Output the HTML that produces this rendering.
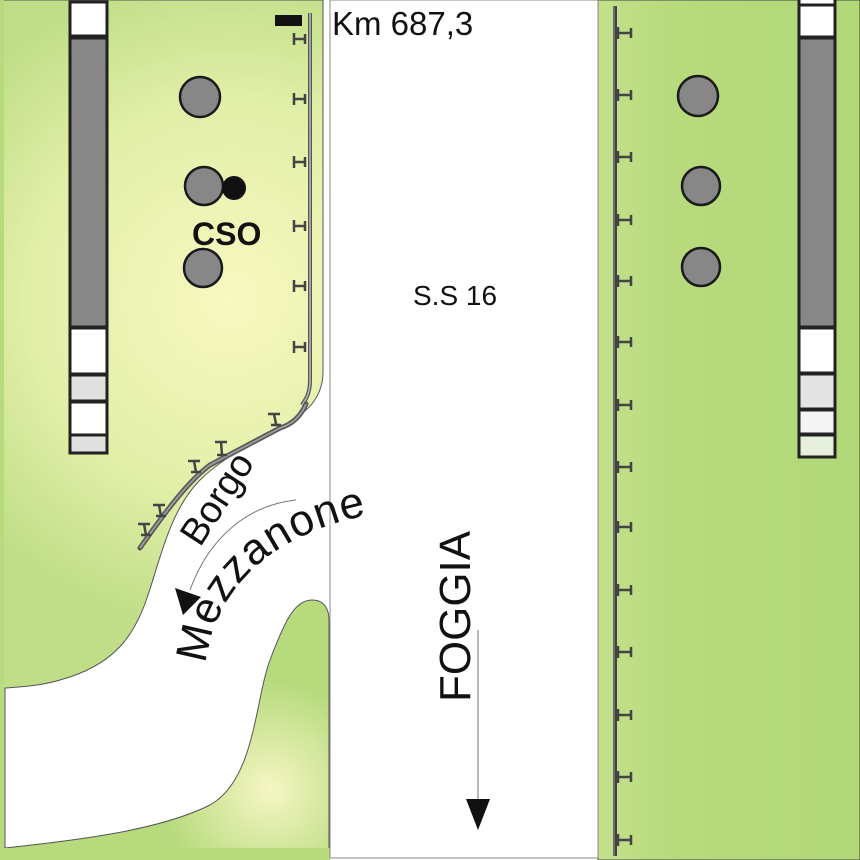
<!DOCTYPE html>
<html><head><meta charset="utf-8"><style>html,body{margin:0;padding:0;background:#fff}svg{display:block}</style></head>
<body>
<svg width="860" height="860" viewBox="0 0 860 860" xmlns="http://www.w3.org/2000/svg" font-family="Liberation Sans, sans-serif">
<defs>
<radialGradient id="g1" cx="230" cy="300" r="330" gradientUnits="userSpaceOnUse">
<stop offset="0" stop-color="#f8f8c0"/><stop offset="0.6" stop-color="#e2efa8"/><stop offset="1" stop-color="#c0de88"/></radialGradient>
<radialGradient id="g2" cx="270" cy="790" r="110" gradientUnits="userSpaceOnUse">
<stop offset="0" stop-color="#f6f6c4"/><stop offset="1" stop-color="#b6da7c"/></radialGradient>
<linearGradient id="g3" x1="0" x2="1"><stop offset="0" stop-color="#c4e08c"/><stop offset="0.3" stop-color="#b7da7c"/><stop offset="1" stop-color="#b2d878"/></linearGradient>
</defs>
<rect width="860" height="860" fill="#fff"/>
<path d="M0,0 H323 V372 C323,395 310,410 290,422 C260,440 225,455 200,480 C170,510 160,560 148,595 C135,635 115,665 60,680 C40,686 20,687 5,688 V860 H0 Z" fill="url(#g1)" stroke="#555" stroke-width="1"/>
<path d="M5,848 C80,840 160,830 210,805 C255,780 255,700 270,660 C285,620 295,600 312,600 C325,600 329,610 329,620 V858 H0 V848 Z" fill="url(#g2)" stroke="#555" stroke-width="1"/>
<rect x="0" y="848" width="330" height="12" fill="#b6da7c"/>
<rect x="0" y="0" width="4" height="860" fill="#b6da7c"/>
<rect x="598" y="0" width="262" height="860" fill="url(#g3)" stroke="#444" stroke-width="1"/>
<rect x="330" y="0" width="268" height="858" fill="none" stroke="#888" stroke-width="1"/>

<g stroke="#222" stroke-width="3">
<rect x="70" y="2" width="37" height="34" fill="#fff"/>
<rect x="70" y="38" width="37" height="289" fill="#878787"/>
<rect x="70" y="328" width="37" height="46" fill="#fff"/>
<rect x="70" y="375" width="37" height="26" fill="#e0e0e0"/>
<rect x="70" y="402" width="37" height="33" fill="#fff"/>
<rect x="70" y="435" width="37" height="18" fill="#e0e0e0"/>
</g>
<g stroke="#222" stroke-width="3">
<rect x="799" y="-2" width="36" height="7" fill="#fff"/>
<rect x="799" y="5" width="36" height="32" fill="#fff"/>
<rect x="799" y="38" width="36" height="289" fill="#878787"/>
<rect x="799" y="328" width="36" height="45" fill="#fff"/>
<rect x="799" y="374" width="36" height="35" fill="#e4e4e4"/>
<rect x="799" y="410" width="36" height="24" fill="#f4f4f4"/>
<rect x="799" y="435" width="36" height="22" fill="#e6eedc"/>
</g>

<g fill="#878787" stroke="#1a1a1a" stroke-width="2.5">
<circle cx="200" cy="97" r="20"/><circle cx="204" cy="186" r="19"/><circle cx="203" cy="268" r="19"/>
<circle cx="698" cy="96" r="20"/><circle cx="701" cy="186" r="19"/><circle cx="701" cy="267" r="19"/>
</g>
<circle cx="234" cy="188" r="12" fill="#111"/>
<text x="192" y="245" font-size="32" font-weight="bold" fill="#111">CSO</text>

<rect x="275" y="15" width="27" height="11" fill="#111"/>
<path d="M310,13 V380 C310,395 305,400 302,405" fill="none" stroke="#555" stroke-width="4"/>
<path d="M310,13 V380 C310,395 305,400 302,405" fill="none" stroke="#bbb" stroke-width="1.5"/>
<path d="M306,404 C300,418 290,425 280,428 L210,465 C190,480 170,505 140,548" fill="none" stroke="#555" stroke-width="5" stroke-linecap="round"/>
<path d="M306,404 C300,418 290,425 280,428 L210,465 C190,480 170,505 140,548" fill="none" stroke="#999" stroke-width="2"/>
<g stroke="#444" stroke-width="2.5" fill="none">
<path d="M294,33 V45 M294,39 H305 M305,34 V44"/><path d="M294,93 V105 M294,99 H305 M305,94 V104"/><path d="M294,156 V168 M294,162 H305 M305,157 V167"/>
<path d="M294,220 V232 M294,226 H305 M305,221 V231"/><path d="M294,280 V292 M294,286 H305 M305,281 V291"/><path d="M294,341 V353 M294,347 H305 M305,342 V352"/>
<path d="M268,414 H280 M274,414 L276,424 M271,425 H281"/><path d="M215,442 H227 M221,442 L222,455 M217,455 H227"/><path d="M188,461 H200 M194,461 L196,472 M191,472 H201"/>
<path d="M153,505 H165 M159,505 L161,516 M156,516 H166"/><path d="M138,524 H150 M144,524 L146,535 M141,535 H151"/>
</g>

<path d="M615,6 V856" stroke="#444" stroke-width="4"/>
<path d="M614,6 V856" stroke="#999" stroke-width="1"/>
<g stroke="#444" stroke-width="2.5" fill="none">
<path d="M618,27 V39 M618,33 H631 M631,28 V38"/><path d="M618,89 V101 M618,95 H631 M631,90 V100"/><path d="M618,151 V163 M618,157 H631 M631,152 V162"/>
<path d="M618,214 V226 M618,220 H631 M631,215 V225"/><path d="M618,275 V287 M618,281 H631 M631,276 V286"/><path d="M618,336 V348 M618,342 H631 M631,337 V347"/>
<path d="M618,399 V411 M618,405 H631 M631,400 V410"/><path d="M618,461 V473 M618,467 H631 M631,462 V472"/><path d="M618,521 V533 M618,527 H631 M631,522 V532"/>
<path d="M618,584 V596 M618,590 H631 M631,585 V595"/><path d="M618,646 V658 M618,652 H631 M631,647 V657"/><path d="M618,709 V721 M618,715 H631 M631,710 V720"/>
<path d="M618,771 V783 M618,777 H631 M631,772 V782"/><path d="M618,834 V846 M618,840 H631 M631,835 V845"/>
</g>

<text x="332" y="35" font-size="33" fill="#111">Km 687,3</text>
<text x="413" y="305" font-size="28" fill="#111">S.S 16</text>

<text transform="translate(470,702) rotate(-90)" font-size="44" fill="#111">FOGGIA</text>
<line x1="478" y1="630" x2="478" y2="805" stroke="#888" stroke-width="1.2"/>
<path d="M466,799 L490,799 L478,830 Z" fill="#111"/>

<text transform="translate(200,548) rotate(-57)" font-size="38" fill="#111">Borgo</text>
<path id="mz" d="M206,664 C214,590 270,530 385,512" fill="none"/>
<text font-size="44" letter-spacing="1" fill="#111"><textPath href="#mz">Mezzanone</textPath></text>
<path d="M296,500 C250,505 210,535 190,590" fill="none" stroke="#777" stroke-width="1"/>
<path d="M175,588 L201,597 L183,615 Z" fill="#111"/>
</svg>
</body></html>
